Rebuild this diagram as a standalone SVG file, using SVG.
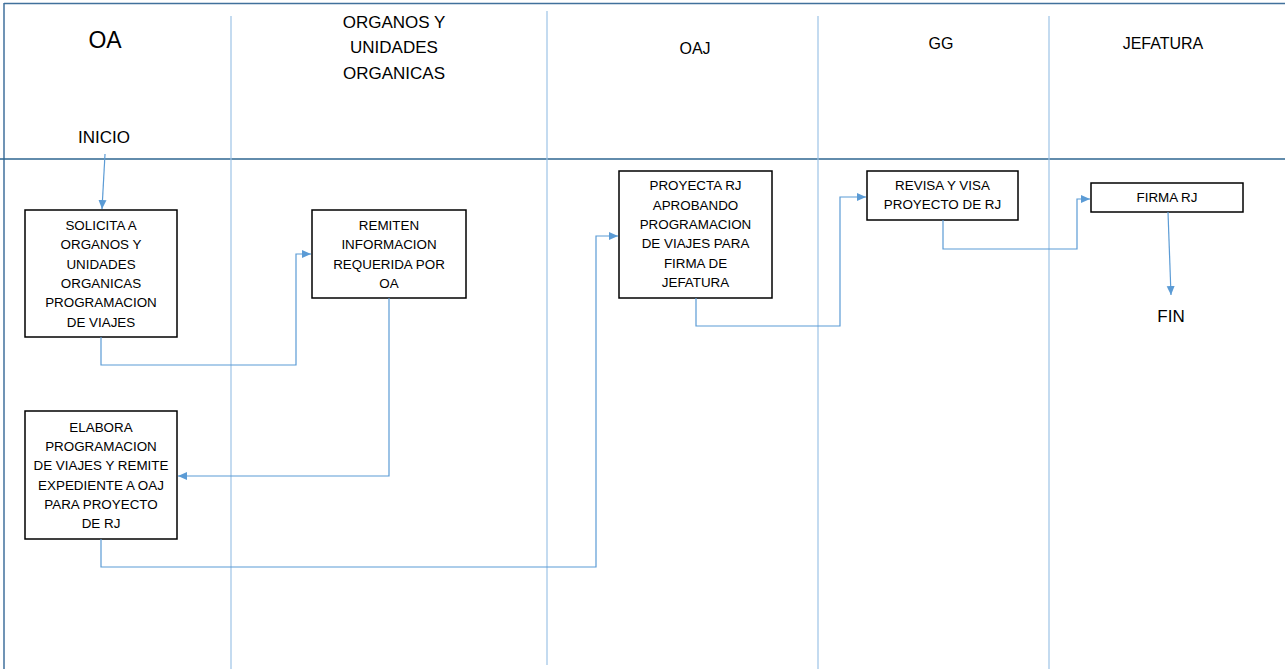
<svg xmlns="http://www.w3.org/2000/svg" width="1285" height="669" viewBox="0 0 1285 669">
<style>
.lane{stroke:#9dc3e6;stroke-width:1.2;fill:none}
.frame{stroke:#41719c;stroke-width:1.5;fill:none}
.box{fill:#fff;stroke:#000;stroke-width:1.5}
.t{font-family:"Liberation Sans",Arial,sans-serif;font-size:13.4px;fill:#000;text-anchor:middle}
.h{font-family:"Liberation Sans",Arial,sans-serif;fill:#000;text-anchor:middle}
.c{stroke:#5b9bd5;stroke-width:1.2;fill:none;marker-end:url(#ah)}
</style>
<defs>
<marker id="ah" markerUnits="userSpaceOnUse" markerWidth="10" markerHeight="10" viewBox="0 0 10 10" refX="9" refY="5" orient="auto">
<path d="M0,1 L9,5 L0,9 Z" fill="#5b9bd5"/>
</marker>
</defs>
<rect width="1285" height="669" fill="#fff"/>
<g id="frame">
<line class="frame" x1="4" y1="3.5" x2="1285" y2="3.5"/>
<line class="frame" x1="4" y1="3" x2="4" y2="669"/>
<line x1="0" y1="159" x2="1285" y2="159" stroke="#2e6690" stroke-width="1.5"/>
<line class="lane" x1="231" y1="16" x2="231" y2="669"/>
<line class="lane" x1="547" y1="11" x2="547" y2="665"/>
<line class="lane" x1="818" y1="16" x2="818" y2="669"/>
<line class="lane" x1="1049" y1="16" x2="1049" y2="669"/>
</g>
<g id="headers">
<text class="h" x="105" y="48" font-size="23">OA</text>
<text class="h" x="394" y="28" font-size="17">ORGANOS Y</text>
<text class="h" x="394" y="53" font-size="17">UNIDADES</text>
<text class="h" x="394" y="79" font-size="17">ORGANICAS</text>
<text class="h" x="695" y="54" font-size="16">OAJ</text>
<text class="h" x="941" y="49" font-size="16">GG</text>
<text class="h" x="1163" y="49" font-size="16">JEFATURA</text>
</g>
<g id="inicio"><text class="h" x="104" y="142.5" font-size="17">INICIO</text></g>
<g id="fin"><text class="h" x="1171" y="321.5" font-size="17">FIN</text></g>
<g id="n1">
<rect class="box" x="25" y="210" width="152" height="127"/>
<text class="t" x="101" y="230">SOLICITA A</text>
<text class="t" x="101" y="249.3">ORGANOS Y</text>
<text class="t" x="101" y="268.7">UNIDADES</text>
<text class="t" x="101" y="288">ORGANICAS</text>
<text class="t" x="101" y="307.3">PROGRAMACION</text>
<text class="t" x="101" y="326.7">DE VIAJES</text>
</g>
<g id="n2">
<rect class="box" x="312" y="210" width="154" height="88"/>
<text class="t" x="389" y="230">REMITEN</text>
<text class="t" x="389" y="249.3">INFORMACION</text>
<text class="t" x="389" y="268.7">REQUERIDA POR</text>
<text class="t" x="389" y="288">OA</text>
</g>
<g id="n3">
<rect class="box" x="25" y="411" width="152" height="128"/>
<text class="t" x="101" y="431.7">ELABORA</text>
<text class="t" x="101" y="451">PROGRAMACION</text>
<text class="t" x="101" y="470.3">DE VIAJES Y REMITE</text>
<text class="t" x="101" y="489.7">EXPEDIENTE A OAJ</text>
<text class="t" x="101" y="509">PARA PROYECTO</text>
<text class="t" x="101" y="528.3">DE RJ</text>
</g>
<g id="n4">
<rect class="box" x="619" y="171" width="153" height="127"/>
<text class="t" x="695.5" y="190">PROYECTA RJ</text>
<text class="t" x="695.5" y="209.5">APROBANDO</text>
<text class="t" x="695.5" y="229">PROGRAMACION</text>
<text class="t" x="695.5" y="248.3">DE VIAJES PARA</text>
<text class="t" x="695.5" y="267.5">FIRMA DE</text>
<text class="t" x="695.5" y="286.7">JEFATURA</text>
</g>
<g id="n5">
<rect class="box" x="867" y="171" width="151" height="49"/>
<text class="t" x="942.5" y="190">REVISA Y VISA</text>
<text class="t" x="942.5" y="209.3">PROYECTO DE RJ</text>
</g>
<g id="n6">
<rect class="box" x="1091" y="183" width="152" height="29"/>
<text class="t" x="1167" y="202.3">FIRMA RJ</text>
</g>
<g id="connectors">
<path class="c" d="M105,154 L102,209"/>
<path class="c" d="M101,337 V365 H296 V254 H311"/>
<path class="c" d="M389,298 V476 H178"/>
<path class="c" d="M101,539 V567 H596 V236 H618"/>
<path class="c" d="M696,298 V326 H840 V197 H866"/>
<path class="c" d="M943,220 V249 H1077 V199 H1090"/>
<path class="c" d="M1168,212 L1171,295"/>
</g>
</svg>
